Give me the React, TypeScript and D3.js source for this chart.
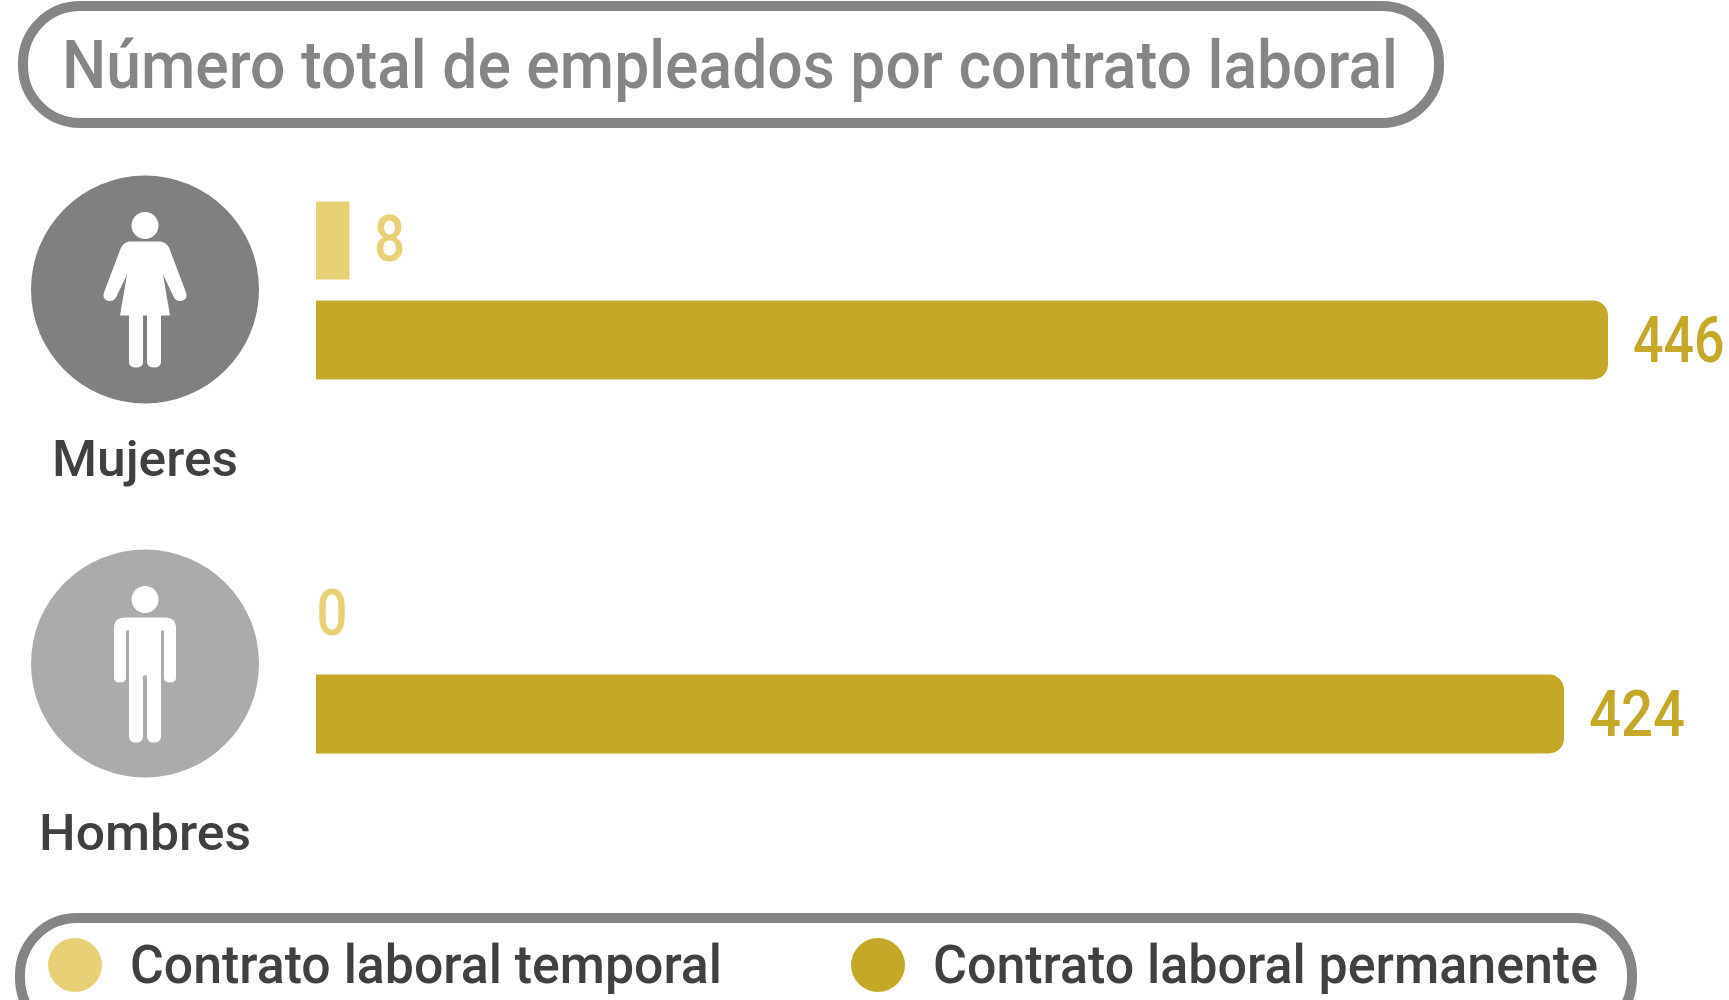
import React from "react";
import * as d3 from "d3";

const categories = ["Mujeres", "Hombres"];
const temporaryValues = [8, 0];
const permanentValues = [446, 424];
const legendLabels = ["Contrato laboral temporal", "Contrato laboral permanente"];
const titleText = "Número total de empleados por contrato laboral";

const FONT = "Roboto, 'Noto Sans', sans-serif";
const GOLD = "#C5A827";
const LIGHT_GOLD = "#E8D077";
const PILL = "#858585";
const DARK = "#404040";
const circleColors = ["#808080", "#ABABAB"];

// The source graphic is not strictly proportional: small bars are given a minimum visible length.
const x = d3.scaleLinear().domain([0, 8, 424, 446]).range([316, 349.5, 1564, 1608]);
const rowY = d3.scalePoint<string>().domain(categories).range([289.5, 663.5]);

const womanPath =
  "M-16,-48 L16,-48 Q21,-47 24,-42 L41,3 Q43,9 38,11 Q32,13 29,8 L18,-15 L25,26 L16,26 L16,72 Q16,78 9,78 Q2,78 2,72 L2,26 L-2,26 L-2,72 Q-2,78 -9,78 Q-16,78 -16,72 L-16,26 L-25,26 L-18,-15 L-29,8 Q-32,13 -38,11 Q-43,9 -41,3 L-24,-42 Q-21,-47 -16,-48 Z";
const manPath =
  "M-20,-46 L20,-46 Q31,-46 31,-35 L31,14 Q31,19 25,19 Q19,19 19,14 L19,-33 L17.5,-33 L16,-33 L16,73 Q16,79 9,79 Q2,79 2,73 L2,12 L-2,12 L-2,73 Q-2,79 -9,79 Q-16,79 -16,73 L-16,-33 L-19,-33 L-19,14 Q-19,19 -25,19 Q-31,19 -31,14 L-31,-35 Q-31,-46 -20,-46 Z";
const iconPaths = [womanPath, manPath];

function roundedRight(x0: number, x1: number, y0: number, y1: number, r: number) {
  const p = d3.path();
  p.moveTo(x0, y0);
  p.lineTo(x1 - r, y0);
  p.arcTo(x1, y0, x1, y0 + r, r);
  p.lineTo(x1, y1 - r);
  p.arcTo(x1, y1, x1 - r, y1, r);
  p.lineTo(x0, y1);
  p.closePath();
  return p.toString();
}

function FitText(props: { x: number; y: number; width: number; size: number; fill: string; children: string }) {
  return (
    <text
      x={props.x}
      y={props.y}
      fontFamily={FONT}
      fontWeight={500}
      fontSize={props.size}
      fill={props.fill}
      textLength={props.width}
      lengthAdjust="spacingAndGlyphs"
    >
      {props.children}
    </text>
  );
}

export default function App() {
  return (
    <svg
      width={1729}
      height={1000}
      viewBox="0 0 1729 1000"
      style={{ position: "absolute", left: 0, top: 0, display: "block", background: "#fff" }}
    >
      <rect x={23} y={6} width={1416} height={117} rx={57} fill="#fff" stroke={PILL} strokeWidth={10} />
      <FitText x={62} y={88} width={1336} size={66} fill={PILL}>
        {titleText}
      </FitText>

      {categories.map((c, i) => {
        const cy = rowY(c) as number;
        const tmp = temporaryValues[i];
        const perm = permanentValues[i];
        const labelBox = i === 0 ? { x: 52, w: 186 } : { x: 39, w: 212 };
        const tmpBox = tmp > 0 ? { gap: 24.5, w: 31 } : { gap: 0.5, w: 31 };
        const permScale = i === 0 ? 0.84 : 0.88;
        return (
          <g key={c}>
            <circle cx={145} cy={cy} r={114} fill={circleColors[i]} />
            <circle cx={145} cy={cy - 64} r={13.5} fill="#fff" />
            <path transform={`translate(145,${cy})`} d={iconPaths[i]} fill="#fff" />
            <FitText x={labelBox.x} y={cy + 186} width={labelBox.w} size={50} fill={DARK}>
              {c}
            </FitText>
            {tmp > 0 && <rect x={x(0)} y={cy - 88} width={x(tmp) - x(0)} height={78} fill={LIGHT_GOLD} />}
            <FitText x={x(tmp) + tmpBox.gap} y={cy - 29} width={tmpBox.w} size={64} fill={LIGHT_GOLD}>
              {String(tmp)}
            </FitText>
            <path d={roundedRight(x(0), x(perm), cy + 11, cy + 90, 15)} fill={GOLD} />
            <text
              transform={`translate(${x(perm) + 25},${cy + 72}) scale(${permScale},1)`}
              fontFamily={FONT}
              fontWeight={500}
              fontSize={64}
              fill={GOLD}
            >
              {String(perm)}
            </text>
          </g>
        );
      })}

      <rect x={20} y={918} width={1612} height={117} rx={57} fill="none" stroke={PILL} strokeWidth={10} />
      <circle cx={75} cy={965} r={27} fill={LIGHT_GOLD} />
      <FitText x={130} y={983} width={592} size={53} fill={DARK}>
        {legendLabels[0]}
      </FitText>
      <circle cx={878} cy={965} r={27} fill={GOLD} />
      <FitText x={933} y={983} width={665} size={53} fill={DARK}>
        {legendLabels[1]}
      </FitText>
    </svg>
  );
}
